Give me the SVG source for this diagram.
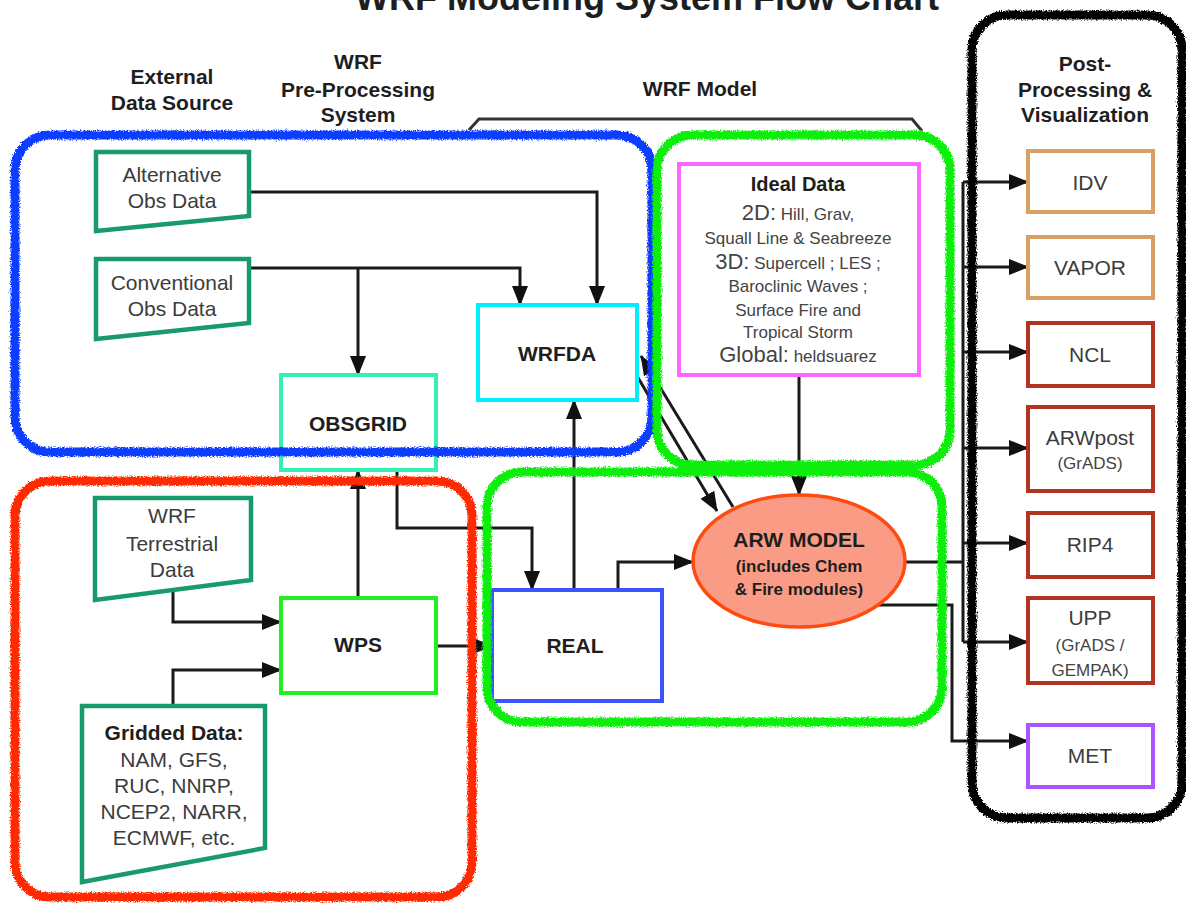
<svg xmlns="http://www.w3.org/2000/svg" width="1186" height="903" viewBox="0 0 1186 903">
<style>
text{font-family:"Liberation Sans",Arial,sans-serif;text-anchor:middle}
.h{font-weight:bold;font-size:21px;fill:#1e1e1e}
.b{font-weight:bold;font-size:21px;fill:#1e1e1e}
.t{font-size:21px;fill:#3c3c3c}
.s{font-size:17px;fill:#444}
.trap{fill:#fff;stroke:#189a6a;stroke-width:4.5}
.box{fill:#fff;stroke-width:4}
.c{fill:none;stroke:#1a1a1a;stroke-width:3}
.ca{fill:none;stroke:#1a1a1a;stroke-width:3;marker-end:url(#ah)}
.reg{fill:none;stroke-width:9;filter:url(#rough)}
</style>
<defs>
<marker id="ah" markerUnits="userSpaceOnUse" markerWidth="20" markerHeight="16" refX="19" refY="8" orient="auto"><path d="M0,0 L20,8 L0,16 Z" fill="#111"/></marker>
<filter id="rough" x="-5%" y="-5%" width="110%" height="110%"><feTurbulence type="fractalNoise" baseFrequency="0.8" numOctaves="2" seed="3"/><feDisplacementMap in="SourceGraphic" scale="5" xChannelSelector="R" yChannelSelector="G"/></filter>
</defs>
<rect width="1186" height="903" fill="#fff"/>
<text x="647" y="10" style="font-weight:bold;font-size:36px;fill:#1e1e1e">WRF Modeling System Flow Chart</text>
<g id="headers">
<text class="h" x="172" y="84">External</text><text class="h" x="172" y="110">Data Source</text>
<text class="h" x="358" y="69">WRF</text><text class="h" x="358" y="97">Pre-Processing</text><text class="h" x="358" y="122">System</text>
<text class="h" x="700" y="96">WRF Model</text>
<polyline points="469,130 479,119 912,119 922,131" fill="none" stroke="#333" stroke-width="3"/>
<text class="h" x="1085" y="71">Post-</text><text class="h" x="1085" y="97">Processing &amp;</text><text class="h" x="1085" y="122">Visualization</text>
</g>
<g id="connectors">
<polyline class="ca" points="249,192 597,192 597,305"/>
<polyline class="ca" points="249,268 520,268 520,305"/>
<polyline class="ca" points="358,268 358,375"/>
<polyline class="ca" points="358,598 358,470"/>
<polyline class="ca" points="397,470 397,528 532,528 532,590"/>
<polyline class="ca" points="436,646 492,646"/>
<polyline class="ca" points="574,590 574,400"/>
<polyline class="ca" points="618,590 618,562 693,562"/>
<polyline class="ca" points="173,592 173,622 281,622"/>
<polyline class="ca" points="173,706 173,670 281,670"/>
<polyline class="ca" points="799,375 799,495"/>
<polyline class="ca" points="733,507 641,356"/>
<polyline class="ca" points="637,376 717,511"/>
<polyline class="c" points="905,562 963,562"/>
<polyline class="c" points="963,182 963,642"/>
<polyline class="ca" points="963,182 1028,182"/>
<polyline class="ca" points="963,267 1028,267"/>
<polyline class="ca" points="963,352 1028,352"/>
<polyline class="ca" points="963,448 1028,448"/>
<polyline class="ca" points="963,543 1028,543"/>
<polyline class="ca" points="963,642 1028,642"/>
<polyline class="ca" points="878,605 952,605 952,741 1028,741"/>
</g>
<g id="alt-obs"><polygon class="trap" points="96,152 249,152 249,216 96,231"/><text class="t" x="172" y="182">Alternative</text><text class="t" x="172" y="208">Obs Data</text></g>
<g id="conv-obs"><polygon class="trap" points="96,259 249,259 249,323 96,339"/><text class="t" x="172" y="290">Conventional</text><text class="t" x="172" y="316">Obs Data</text></g>
<g id="terrestrial"><polygon class="trap" points="95,498 251,498 251,580 95,600"/><text class="t" x="172" y="523">WRF</text><text class="t" x="172" y="551">Terrestrial</text><text class="t" x="172" y="577">Data</text></g>
<g id="gridded"><polygon class="trap" points="82,706 265,706 265,848 82,882"/><text class="b" x="174" y="740">Gridded Data:</text><text class="t" x="174" y="767">NAM, GFS,</text><text class="t" x="174" y="793">RUC, NNRP,</text><text class="t" x="174" y="819">NCEP2, NARR,</text><text class="t" x="174" y="845">ECMWF, etc.</text></g>
<g id="obsgrid"><rect class="box" x="281" y="375" width="155" height="95" stroke="#35f0b0"/><text class="b" x="358" y="431">OBSGRID</text></g>
<g id="wps"><rect class="box" x="281" y="598" width="155" height="95" stroke="#22ee22"/><text class="b" x="358" y="652">WPS</text></g>
<g id="wrfda"><rect class="box" x="478" y="305" width="159" height="95" stroke="#00eeff"/><text class="b" x="557" y="361">WRFDA</text></g>
<g id="real"><rect class="box" x="492" y="590" width="170" height="111" stroke="#3a55ff"/><text class="b" x="575" y="653">REAL</text></g>
<g id="ideal"><rect class="box" x="679" y="164" width="240" height="211" stroke="#ff66ff"/>
<text class="b" x="798" y="191" style="font-size:20px">Ideal Data</text>
<text class="s" x="798" y="220"><tspan style="font-size:22px">2D:</tspan> Hill, Grav,</text>
<text class="s" x="798" y="244">Squall Line &amp; Seabreeze</text>
<text class="s" x="798" y="269"><tspan style="font-size:22px">3D:</tspan> Supercell ; LES ;</text>
<text class="s" x="798" y="292">Baroclinic Waves ;</text>
<text class="s" x="798" y="316">Surface Fire and</text>
<text class="s" x="798" y="338">Tropical Storm</text>
<text class="s" x="798" y="362"><tspan style="font-size:22px">Global:</tspan> heldsuarez</text></g>
<g id="arw"><ellipse cx="799" cy="561" rx="106" ry="66" fill="#fa9c85" stroke="#ff4a10" stroke-width="3.5"/><text class="b" x="799" y="547">ARW MODEL</text><text class="b" x="799" y="572" style="font-size:17px">(includes Chem</text><text class="b" x="799" y="595" style="font-size:17px">&amp; Fire modules)</text></g>
<g id="idv"><rect class="box" x="1028" y="151" width="125" height="61" stroke="#d9a066"/><text class="t" x="1090" y="190">IDV</text></g>
<g id="vapor"><rect class="box" x="1028" y="237" width="125" height="61" stroke="#d9a066"/><text class="t" x="1090" y="275">VAPOR</text></g>
<g id="ncl"><rect class="box" x="1028" y="323" width="125" height="63" stroke="#b33322"/><text class="t" x="1090" y="362">NCL</text></g>
<g id="arwpost"><rect class="box" x="1028" y="407" width="125" height="84" stroke="#b33322"/><text class="t" x="1090" y="445">ARWpost</text><text class="s" x="1090" y="469">(GrADS)</text></g>
<g id="rip4"><rect class="box" x="1028" y="513" width="125" height="64" stroke="#b33322"/><text class="t" x="1090" y="552">RIP4</text></g>
<g id="upp"><rect class="box" x="1028" y="598" width="125" height="85" stroke="#b33322"/><text class="t" x="1090" y="625">UPP</text><text class="s" x="1090" y="651">(GrADS /</text><text class="s" x="1090" y="676">GEMPAK)</text></g>
<g id="met"><rect class="box" x="1028" y="725" width="125" height="62" stroke="#aa55ff"/><text class="t" x="1090" y="763">MET</text></g>
<g id="regions">
<rect class="reg" x="15" y="135" width="637" height="317" rx="35" stroke="#0a3cff"/>
<rect class="reg" x="657" y="135" width="293" height="330" rx="35" stroke="#11ee11"/>
<rect class="reg" x="487" y="472" width="455" height="250" rx="35" stroke="#11ee11"/>
<rect class="reg" x="15" y="481" width="457" height="416" rx="35" stroke="#ff2a00"/>
<rect class="reg" x="972" y="15" width="210" height="803" rx="35" stroke="#000"/>
</g>
</svg>
